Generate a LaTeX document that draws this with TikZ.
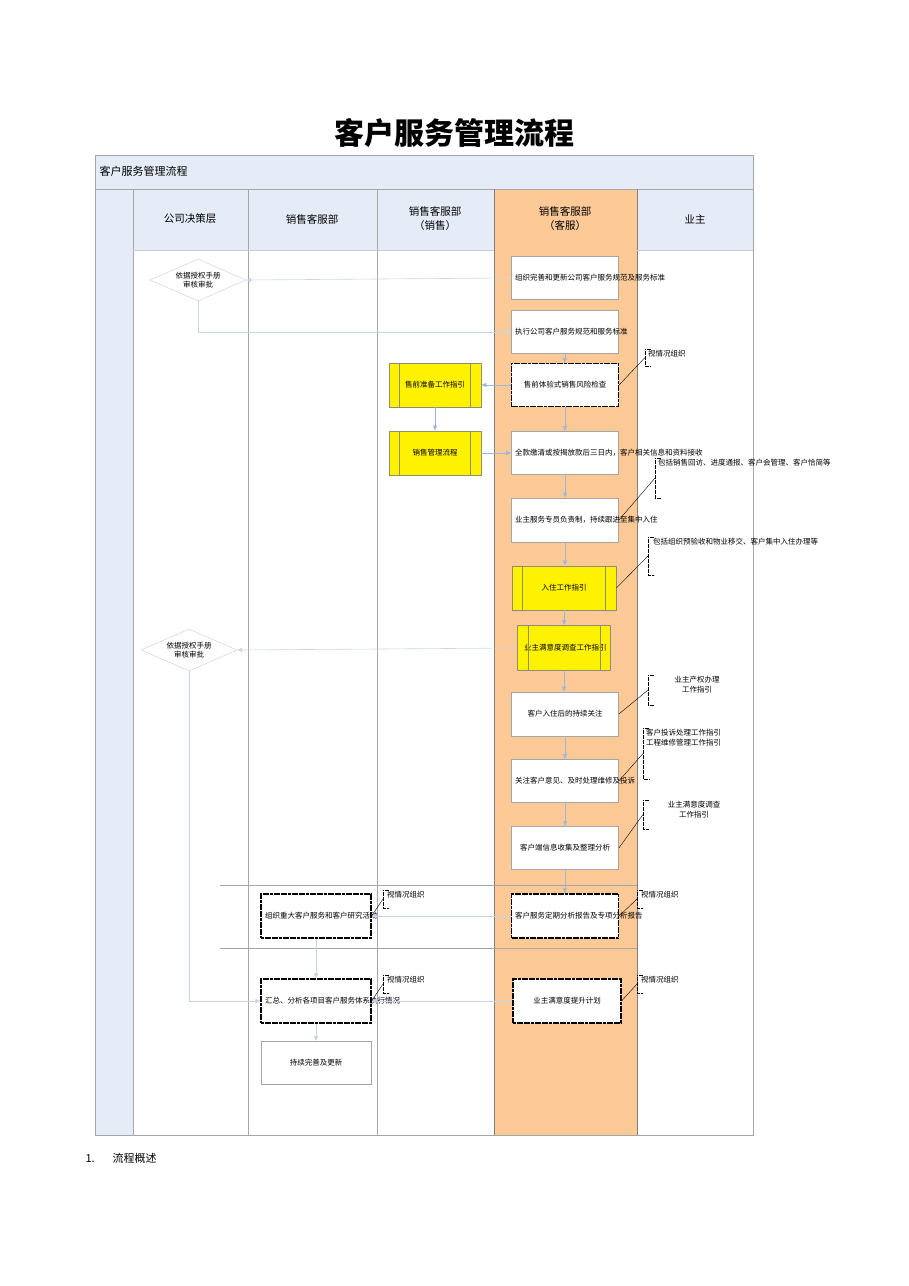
\documentclass[tikz,border=0pt]{standalone}
\usepackage{fontspec}
\setmainfont{Noto Sans CJK SC}
\usetikzlibrary{arrows.meta,shapes.geometric}
\definecolor{lb}{HTML}{E6ECF7}
\definecolor{org}{HTML}{FDCA97}
\definecolor{ab}{HTML}{5B86C5}
\definecolor{gl}{HTML}{A6A6A6}
\begin{document}
\begin{tikzpicture}[x=1pt,y=-1pt,
 box/.style={draw=gray!70,fill=white,line width=0.8pt,align=center,font=\fontsize{7.5}{10}\selectfont,inner sep=1pt},
 dbox/.style={box,draw=black,dash pattern=on 3pt off 0.6pt,line width=1.1pt},
 ybox/.style={box,fill=yellow,draw=gray!80!olive},
 dia/.style={diamond,aspect=2.4,draw=gray!40,fill=white,align=center,font=\fontsize{7.5}{9}\selectfont,inner sep=0pt},
 note/.style={align=left,font=\fontsize{7.5}{9.5}\selectfont,anchor=north west,inner sep=1pt},
 ar/.style={draw=ab!60,line width=0.6pt,-{Triangle[length=5pt,width=4pt]},shorten >=0pt},
 ar2/.style={ar,draw=ab!35},
 hd/.style={font=\fontsize{10.5}{14}\selectfont,align=center}]
\useasboundingbox (0,0) rectangle (909,1286);
\node[font=\bfseries\fontsize{30}{34}\selectfont] (title) at (454,133) {客户服务管理流程};
% frame
\fill[lb] (95,155) rectangle (753,189);
\draw[gl,line width=0.6pt] (95,155) rectangle (753,189);
\node[anchor=west,font=\fontsize{11}{14}\selectfont] (tb) at (96,171) {客户服务管理流程};
\fill[lb] (95,189) rectangle (133,1135);
\fill[lb] (133,189) rectangle (494,250);
\fill[lb] (637,189) rectangle (753,250);
\fill[org] (494,189) rectangle (637,1135);
\draw[gl,line width=0.6pt] (95,189) rectangle (753,1135);
\foreach \x in {133,248,377} \draw[gl,line width=0.6pt] (\x,189) -- (\x,1135);
\draw[gray,line width=0.7pt] (494,189) -- (494,1135);
\draw[gray,line width=0.7pt] (637,189) -- (637,1135);
\draw[gray!40,line width=0.6pt] (133,250) -- (494,250) (637,250) -- (753,250);
\draw[gray!70,line width=0.5pt] (220,885) -- (637,885) (220,948) -- (637,948);
\node[hd] (h1) at (190,219) {公司决策层};
\node[hd] (h2) at (312,219) {销售客服部};
\node[hd] (h3) at (435,219) {销售客服部\\（销售）};
\node[hd] (h4) at (565,219) {销售客服部\\（客服）};
\node[hd] (h5) at (695,219) {业主};
% boxes
\node[box,minimum width=107pt,minimum height=43pt,text width=100pt] (b1) at (565,278) {组织完善和更新公司客户服务规范及服务标准};
\node[box,minimum width=107pt,minimum height=43pt,text width=100pt] (b2) at (565,332) {执行公司客户服务规范和服务标准};
\node[dbox,minimum width=107pt,minimum height=43pt,text width=100pt] (b3) at (565,385) {售前体验式销售风险检查};
\node[box,minimum width=107pt,minimum height=43pt,text width=100pt] (b4) at (565,453) {全款缴清或按揭放款后三日内，客户相关信息和资料接收};
\node[box,minimum width=107pt,minimum height=44pt,text width=100pt] (b5) at (565,520) {业主服务专员负责制，持续跟进至集中入住};
\node[ybox,minimum width=104pt,minimum height=44pt,text width=90pt] (b6) at (564,588) {入住工作指引};
\node[ybox,minimum width=93pt,minimum height=45pt,text width=80pt] (b7) at (564,648) {业主满意度调查工作指引};
\node[box,minimum width=107pt,minimum height=44pt,text width=100pt] (b8) at (565,714) {客户入住后的持续关注};
\node[box,minimum width=107pt,minimum height=43pt,text width=100pt] (b9) at (565,781) {关注客户意见、及时处理维修及投诉};
\node[box,minimum width=107pt,minimum height=43pt,text width=100pt] (b10) at (565,848) {客户端信息收集及整理分析};
\node[dbox,minimum width=107pt,minimum height=44pt,text width=100pt] (b11) at (565,916) {客户服务定期分析报告及专项分析报告};
\node[dbox,minimum width=108pt,minimum height=44pt,text width=100pt] (b12) at (567,1001) {业主满意度提升计划};
\node[ybox,minimum width=92pt,minimum height=44pt,text width=80pt] (y1) at (435,385) {售前准备工作指引};
\node[ybox,minimum width=92pt,minimum height=44pt,text width=80pt] (y2) at (435,453) {销售管理流程};
\foreach \n in {b6,b7,y1,y2} \draw[gray!80!olive,line width=0.6pt] ([xshift=11pt]\n.north west) -- ([xshift=11pt]\n.south west) ([xshift=-11pt]\n.north east) -- ([xshift=-11pt]\n.south east);
\node[dia,minimum width=96pt,minimum height=42pt] (d1) at (198,280) {依据授权手册\\审核审批};
\node[dia,minimum width=96pt,minimum height=42pt] (d2) at (189,650) {依据授权手册\\审核审批};
\node[dbox,minimum width=110pt,minimum height=44pt,text width=102pt] (s1) at (316,916) {组织重大客户服务和客户研究活动};
\node[dbox,minimum width=110pt,minimum height=44pt,text width=102pt] (s2) at (316,1001) {汇总、分析各项目客户服务体系执行情况};
\node[box,minimum width=110pt,minimum height=43pt,text width=102pt] (s3) at (316,1063) {持续完善及更新};
% arrows
\draw[ar2] (b1.west) -- (d1.east);
\draw[ar2] (d1.south) |- (b2.west);
\foreach \a/\b in {b2/b3,b3/b4,b4/b5,b5/b6,b6/b7,b7/b8,b8/b9,b9/b10,b10/b11} \draw[ar] (\a.south) -- (\b.north -| \a.south);
\draw[ar] (b3.west) -- (y1.east);
\draw[ar] (y1.south) -- (y2.north);
\draw[ar] (y2.east) -- (b4.west);
\draw[ar2] (b7.west) -- (d2.east);
\draw[ar2] (d2.south) |- (s2.west);
\draw[ar2] (b11.west) -- (s1.east);
\draw[ar2] (s1.south) -- (s2.north);
\draw[ar2] (b12.west) -- (s2.east);
\draw[ar2] (s2.south) -- (s3.north);
% notes
\newcommand{\bnote}[4]{% name, x, y, height
 \draw[black,line width=0.6pt,dash pattern=on 2pt off 0.5pt] (#2+6,#3) -- (#2,#3) -- (#2,#3+#4) -- (#2+6,#3+#4);
 \coordinate (#1) at (#2,#3+#4/2);}
\bnote{n1}{645}{349}{17}\node[note] (t1) at (647,349) {视情况组织};
\draw (b3.east) -- (n1);
\bnote{n2}{655}{458}{40}\node[note,text width=88pt] (t2) at (657,458) {包括销售回访、进度通报、客户会管理、客户恰简等};
\draw (b5.east) -- (n2);
\bnote{n3}{648}{537}{38}\node[note,text width=92pt] (t3) at (652,537) {包括组织预验收和物业移交、客户集中入住办理等};
\draw (b6.east) -- (n3);
\bnote{n4}{648}{675}{30}\node[note,align=center,text width=82pt] (t4) at (655,675) {业主产权办理\\工作指引};
\draw (b8.east) -- (n4);
\bnote{n5}{643}{728}{51}\node[note,text width=100pt] (t5) at (645,728) {客户投诉处理工作指引\\工程维修管理工作指引};
\draw (b9.east) -- (n5);
\bnote{n6}{643}{800}{29}\node[note,align=center,text width=90pt] (t6) at (648,800) {业主满意度调查\\工作指引};
\draw (b10.east) -- (n6);
\bnote{n7}{637}{890}{18}\node[note] (t7) at (640,890) {视情况组织};
\draw (b11.east) -- (n7);
\bnote{n8}{637}{975}{18}\node[note] (t8) at (640,975) {视情况组织};
\draw (b12.east) -- (n8);
\bnote{n9}{321+62}{890}{18}\node[note] (t9) at (386,890) {视情况组织};
\draw (s1.east) -- (n9);
\bnote{n10}{383}{975}{18}\node[note] (t10) at (386,975) {视情况组织};
\draw (s2.east) -- (n10);
\node[anchor=west,font=\fontsize{11}{14}\selectfont] (ft) at (82,1158) {1.\hspace{18pt}流程概述};
\end{tikzpicture}
\end{document}
